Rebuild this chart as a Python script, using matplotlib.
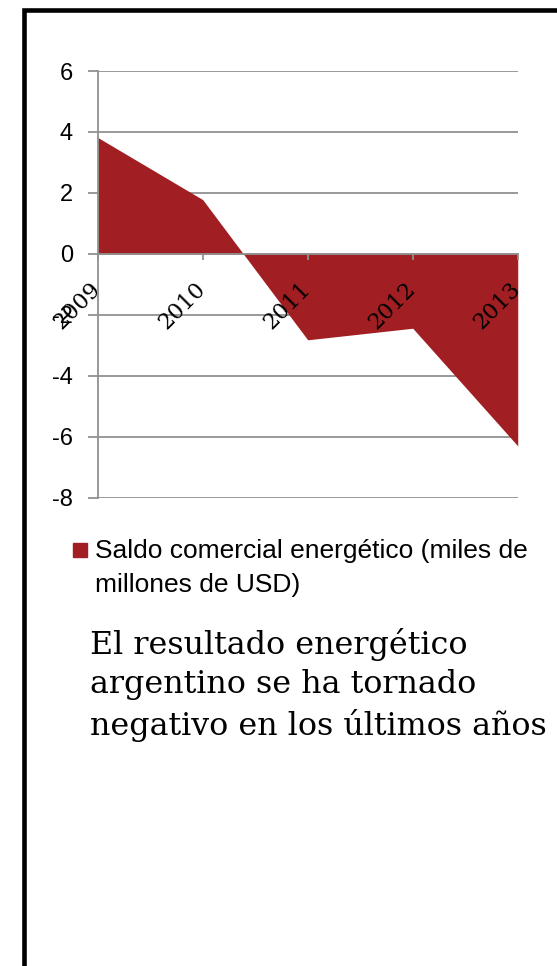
import matplotlib.pyplot as plt
from matplotlib.patches import Rectangle

years = ['2009', '2010', '2011', '2012', '2013']
saldo = [3.82, 1.78, -2.82, -2.44, -6.30]
y_ticks = [-8, -6, -4, -2, 0, 2, 4, 6]

legend_label = 'Saldo comercial energético (miles de\nmillones de USD)'
caption = 'El resultado energético\nargentino se ha tornado\nnegativo en los últimos años'

red = '#A11F22'
grey = '#919191'

fig = plt.figure(figsize=(5.57, 9.66), dpi=100)
ax = fig.add_axes([0.1754, 0.4848, 0.7541, 0.4417])

x = list(range(len(years)))
# gridlines under the area, tick labels over it
for v in y_ticks:
    ax.axhline(v, color=grey, lw=1.3, zorder=0.5)
ax.fill_between(x, saldo, 0, color=red, lw=0, zorder=1)
ax.set_xlim(0, len(years) - 1)
ax.set_ylim(-8, 6)

ax.set_yticks(y_ticks)
ax.set_yticklabels([str(v) for v in y_ticks])

ax.spines['top'].set_visible(False)
ax.spines['right'].set_visible(False)
ax.spines['left'].set_color(grey)
ax.spines['left'].set_linewidth(1.3)
ax.spines['bottom'].set_position(('data', 0))
ax.spines['bottom'].set_color(grey)
ax.spines['bottom'].set_linewidth(1.3)

ax.set_xticks(x)
ax.set_xticklabels(years, rotation=45, ha='right', va='center',
                   rotation_mode='anchor')
ax.tick_params(axis='y', length=7.2, width=1.3, color=grey, pad=10.5,
               labelsize=17, labelfontfamily='Liberation Sans')
ax.tick_params(axis='x', length=4, width=1.3, color=grey, pad=19,
               labelsize=16, labelfontfamily='DejaVu Serif')

# legend drawn by hand so the square sits on the first line
fig.add_artist(Rectangle((73 / 557, 1 - 557 / 966), 14 / 557, 14 / 966,
                         transform=fig.transFigure, color=red))
fig.text(95 / 557, 1 - 592 / 966, legend_label, fontsize=19,
         family='Liberation Sans', va='baseline', linespacing=1.52)

fig.text(90 / 557, 1 - 735 / 966, caption, fontsize=22.9,
         family='DejaVu Serif', va='baseline', linespacing=1.34)

# black frame, open to the right and bottom
fig.add_artist(Rectangle((24.3 / 557, -0.1), 1.2, 1.1 - 9.7 / 966,
                         transform=fig.transFigure, fill=False,
                         ec='black', lw=3.3, clip_on=False))

fig.savefig('out.png', dpi=100)
